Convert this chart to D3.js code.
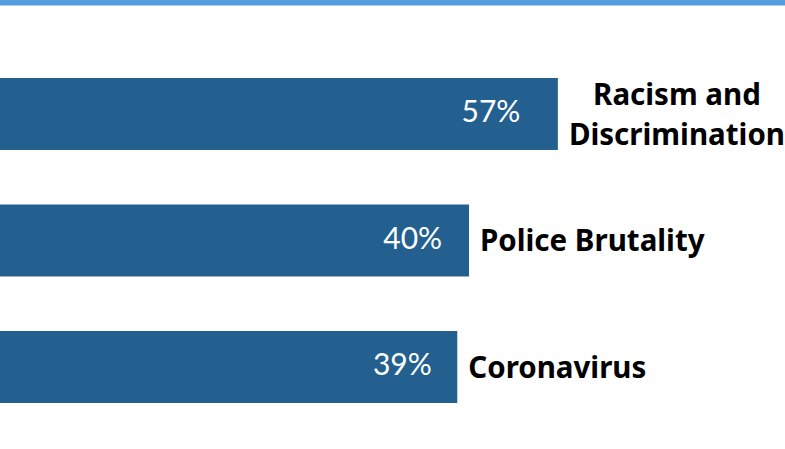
<!DOCTYPE html>
<html><head><meta charset="utf-8">
<script src="https://cdn.jsdelivr.net/npm/d3@7"></script>
<style>body{margin:0;background:#fff;overflow:hidden}</style>
</head><body>
<svg id="chart" width="785" height="449"></svg>
<script>
const categories = [["Racism and","Discrimination"],["Police Brutality"],["Coronavirus"]];
const values = [57, 40, 39];
const valueLabels = ["57%","40%","39%"];

const W = 785, H = 449;
const svg = d3.select("#chart");
svg.append("rect").attr("x",0).attr("y",0).attr("width",W).attr("height",5.5).attr("fill","#539ddd");

const ids = categories.map((c,i)=>i);
const y = d3.scaleBand().domain(ids).range([78,403]).paddingInner(0.431).paddingOuter(0);
const x = d3.scaleLinear().domain([0,40]).range([0,469]);
const gap = 11;
const lineH = 40;
const catFont = "bold 29.5px 'Noto Sans'";

const measure = svg.append("text").style("font", catFont);
const labelW = categories.map(lines => d3.max(lines, t => { measure.text(t); return measure.node().getComputedTextLength(); }));
measure.remove();

const barW = values.map((v,i)=>Math.min(x(v), W - labelW[i] - gap));

const g = svg.selectAll("g.row").data(ids).join("g").attr("class","row");
g.append("rect").attr("x",0).attr("y",i=>y(i)).attr("height",y.bandwidth())
 .attr("width",i=>barW[i]).attr("fill","#23608f");
g.append("text").attr("x",i=>barW[i]*0.88).attr("y",i=>y(i)+y.bandwidth()/2)
 .attr("dy","0.28em").attr("text-anchor","middle").attr("fill","#fff")
 .style("font","400 30px Lato").text(i=>valueLabels[i]);
g.each(function(i){
  const lines = categories[i];
  const cx = barW[i] + gap + labelW[i]/2;
  const cy = y(i)+y.bandwidth()/2;
  const t = d3.select(this).append("text").attr("text-anchor","middle").attr("fill","#000").style("font",catFont);
  lines.forEach((l,k)=>{
    t.append("tspan").attr("x",cx).attr("y",cy + (k-(lines.length-1)/2)*lineH).attr("dy","0.36em").text(l);
  });
});
</script>
</body></html>
